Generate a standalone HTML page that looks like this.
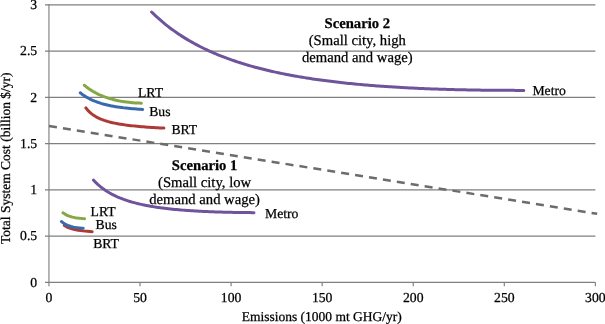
<!DOCTYPE html>
<html><head><meta charset="utf-8"><style>
html,body{margin:0;padding:0;background:#fff;}
body{width:605px;height:324px;overflow:hidden;font-family:"Liberation Serif",serif;}
svg{display:block;}
.t{filter:grayscale(1);text-rendering:geometricPrecision;}
</style></head><body>
<svg width="605" height="324" viewBox="0 0 605 324">
<g><line x1="45" y1="236.05" x2="595.4" y2="236.05" stroke="#7f7f7f" stroke-width="1.15"/><line x1="45" y1="189.80" x2="595.4" y2="189.80" stroke="#7f7f7f" stroke-width="1.15"/><line x1="45" y1="143.55" x2="595.4" y2="143.55" stroke="#7f7f7f" stroke-width="1.15"/><line x1="45" y1="97.30" x2="595.4" y2="97.30" stroke="#7f7f7f" stroke-width="1.15"/><line x1="45" y1="51.05" x2="595.4" y2="51.05" stroke="#7f7f7f" stroke-width="1.15"/><line x1="45" y1="4.80" x2="595.4" y2="4.80" stroke="#7f7f7f" stroke-width="1.15"/><line x1="45" y1="282.3" x2="595.4" y2="282.3" stroke="#7f7f7f" stroke-width="1.15"/><line x1="48.95" y1="4.20" x2="48.95" y2="286.2" stroke="#7f7f7f" stroke-width="1.15"/><line x1="140.02" y1="282.3" x2="140.02" y2="286.2" stroke="#7f7f7f" stroke-width="1.15"/><line x1="231.09" y1="282.3" x2="231.09" y2="286.2" stroke="#7f7f7f" stroke-width="1.15"/><line x1="322.16" y1="282.3" x2="322.16" y2="286.2" stroke="#7f7f7f" stroke-width="1.15"/><line x1="413.23" y1="282.3" x2="413.23" y2="286.2" stroke="#7f7f7f" stroke-width="1.15"/><line x1="504.30" y1="282.3" x2="504.30" y2="286.2" stroke="#7f7f7f" stroke-width="1.15"/><line x1="595.37" y1="282.3" x2="595.37" y2="286.2" stroke="#7f7f7f" stroke-width="1.15"/><line x1="49" y1="126.0" x2="597.2" y2="213.8" stroke="#6c6c6c" stroke-width="2.5" stroke-dasharray="8.0 6.09"/><polyline points="151.60,11.97 153.61,13.93 155.62,15.84 157.64,17.68 159.65,19.48 161.66,21.22 163.67,22.90 165.68,24.54 167.70,26.14 169.71,27.69 171.72,29.19 173.73,30.65 175.74,32.08 177.75,33.46 179.77,34.81 181.78,36.12 183.79,37.39 185.80,38.64 187.81,39.85 189.83,41.03 191.84,42.17 193.85,43.29 195.86,44.39 197.87,45.45 199.89,46.49 201.90,47.50 203.91,48.49 205.92,49.45 207.93,50.39 209.94,51.31 211.96,52.21 213.97,53.08 215.98,53.94 217.99,54.77 220.00,55.58 222.02,56.38 224.03,57.16 226.04,57.92 228.05,58.66 230.06,59.39 232.08,60.10 234.09,60.79 236.10,61.47 238.11,62.13 240.12,62.78 242.14,63.42 244.15,64.04 246.16,64.65 248.17,65.24 250.18,65.82 252.19,66.39 254.21,66.95 256.22,67.49 258.23,68.03 260.24,68.55 262.25,69.06 264.27,69.56 266.28,70.05 268.29,70.53 270.30,71.00 272.31,71.46 274.33,71.91 276.34,72.35 278.35,72.78 280.36,73.20 282.37,73.61 284.38,74.02 286.40,74.42 288.41,74.81 290.42,75.19 292.43,75.56 294.44,75.93 296.46,76.28 298.47,76.63 300.48,76.98 302.49,77.31 304.50,77.64 306.52,77.97 308.53,78.28 310.54,78.59 312.55,78.90 314.56,79.19 316.58,79.48 318.59,79.77 320.60,80.05 322.61,80.32 324.62,80.59 326.63,80.85 328.65,81.11 330.66,81.36 332.67,81.61 334.68,81.85 336.69,82.09 338.71,82.32 340.72,82.54 342.73,82.77 344.74,82.98 346.75,83.20 348.77,83.40 350.78,83.61 352.79,83.81 354.80,84.00 356.81,84.19 358.82,84.38 360.84,84.56 362.85,84.74 364.86,84.92 366.87,85.09 368.88,85.26 370.90,85.42 372.91,85.58 374.92,85.74 376.93,85.89 378.94,86.04 380.96,86.19 382.97,86.33 384.98,86.47 386.99,86.61 389.00,86.74 391.02,86.87 393.03,87.00 395.04,87.12 397.05,87.24 399.06,87.36 401.07,87.47 403.09,87.59 405.10,87.70 407.11,87.80 409.12,87.91 411.13,88.01 413.15,88.11 415.16,88.20 417.17,88.30 419.18,88.39 421.19,88.48 423.21,88.56 425.22,88.65 427.23,88.73 429.24,88.81 431.25,88.88 433.26,88.96 435.28,89.03 437.29,89.10 439.30,89.17 441.31,89.23 443.32,89.29 445.34,89.36 447.35,89.42 449.36,89.47 451.37,89.53 453.38,89.58 455.40,89.63 457.41,89.68 459.42,89.73 461.43,89.77 463.44,89.82 465.46,89.86 467.47,89.90 469.48,89.94 471.49,89.97 473.50,90.01 475.51,90.04 477.53,90.07 479.54,90.10 481.55,90.13 483.56,90.16 485.57,90.18 487.59,90.21 489.60,90.23 491.61,90.25 493.62,90.27 495.63,90.28 497.65,90.30 499.66,90.31 501.67,90.33 503.68,90.34 505.69,90.35 507.70,90.36 509.72,90.36 511.73,90.37 513.74,90.37 515.75,90.38 517.76,90.38 519.78,90.38 521.79,90.38 523.80,90.38" fill="none" stroke="#6f549c" stroke-width="3.0" stroke-linecap="round" stroke-linejoin="round"/><polyline points="93.40,180.04 95.43,182.18 97.47,184.13 99.50,185.92 101.53,187.57 103.56,189.08 105.60,190.48 107.63,191.78 109.66,192.99 111.70,194.11 113.73,195.16 115.76,196.14 117.79,197.05 119.83,197.91 121.86,198.71 123.89,199.47 125.93,200.18 127.96,200.85 129.99,201.48 132.03,202.07 134.06,202.64 136.09,203.17 138.12,203.67 140.16,204.15 142.19,204.60 144.22,205.03 146.26,205.43 148.29,205.82 150.32,206.19 152.35,206.53 154.39,206.87 156.42,207.18 158.45,207.48 160.49,207.76 162.52,208.04 164.55,208.29 166.58,208.54 168.62,208.77 170.65,209.00 172.68,209.21 174.72,209.41 176.75,209.60 178.78,209.79 180.82,209.96 182.85,210.13 184.88,210.29 186.91,210.44 188.95,210.58 190.98,210.72 193.01,210.85 195.05,210.98 197.08,211.09 199.11,211.20 201.14,211.31 203.18,211.41 205.21,211.51 207.24,211.60 209.28,211.68 211.31,211.77 213.34,211.84 215.37,211.91 217.41,211.98 219.44,212.05 221.47,212.11 223.51,212.16 225.54,212.22 227.57,212.27 229.61,212.31 231.64,212.36 233.67,212.39 235.70,212.43 237.74,212.47 239.77,212.50 241.80,212.52 243.84,212.55 245.87,212.57 247.90,212.59 249.93,212.61 251.97,212.63 254.00,212.64" fill="none" stroke="#6f549c" stroke-width="3.0" stroke-linecap="round" stroke-linejoin="round"/><polyline points="85.80,107.82 87.86,110.34 89.91,112.41 91.97,114.12 94.02,115.57 96.08,116.82 98.13,117.89 100.19,118.84 102.24,119.67 104.30,120.40 106.35,121.06 108.41,121.66 110.46,122.19 112.52,122.68 114.57,123.13 116.63,123.54 118.68,123.91 120.74,124.26 122.79,124.58 124.85,124.88 126.91,125.15 128.96,125.41 131.02,125.65 133.07,125.88 135.13,126.09 137.18,126.29 139.24,126.48 141.29,126.66 143.35,126.83 145.40,126.99 147.46,127.14 149.51,127.29 151.57,127.42 153.62,127.55 155.68,127.68 157.73,127.80 159.79,127.91 161.84,128.02 163.90,128.12" fill="none" stroke="#ae3a37" stroke-width="3.0" stroke-linecap="round" stroke-linejoin="round"/><polyline points="80.20,92.79 82.28,94.39 84.37,95.82 86.45,97.11 88.53,98.28 90.62,99.33 92.70,100.29 94.78,101.16 96.87,101.96 98.95,102.68 101.03,103.35 103.12,103.96 105.20,104.51 107.28,105.02 109.37,105.49 111.45,105.92 113.53,106.32 115.62,106.68 117.70,107.02 119.78,107.33 121.87,107.61 123.95,107.87 126.03,108.11 128.12,108.32 130.20,108.52 132.28,108.70 134.37,108.87 136.45,109.02 138.53,109.15 140.62,109.27 142.70,109.38" fill="none" stroke="#3a6aad" stroke-width="3.0" stroke-linecap="round" stroke-linejoin="round"/><polyline points="84.30,85.27 86.41,86.94 88.53,88.48 90.64,89.90 92.76,91.21 94.87,92.41 96.99,93.53 99.10,94.55 101.22,95.50 103.33,96.37 105.45,97.16 107.56,97.89 109.68,98.56 111.79,99.17 113.91,99.73 116.02,100.24 118.14,100.69 120.25,101.10 122.37,101.47 124.48,101.80 126.60,102.09 128.71,102.34 130.83,102.56 132.94,102.74 135.06,102.90 137.17,103.02 139.29,103.12 141.40,103.19" fill="none" stroke="#85a845" stroke-width="3.0" stroke-linecap="round" stroke-linejoin="round"/><polyline points="64.30,225.40 66.62,226.82 68.95,227.86 71.28,228.66 73.60,229.29 75.92,229.80 78.25,230.22 80.58,230.57 82.90,230.87 85.22,231.13 87.55,231.36 89.88,231.55 92.20,231.73" fill="none" stroke="#ae3a37" stroke-width="3.0" stroke-linecap="round" stroke-linejoin="round"/><polyline points="61.40,221.55 63.82,223.39 66.24,224.75 68.67,225.77 71.09,226.54 73.51,227.11 75.93,227.54 78.36,227.85 80.78,228.06 83.20,228.20" fill="none" stroke="#3a6aad" stroke-width="3.0" stroke-linecap="round" stroke-linejoin="round"/><polyline points="62.90,212.76 65.31,214.35 67.72,215.54 70.13,216.44 72.54,217.13 74.96,217.65 77.37,218.04 79.78,218.33 82.19,218.53 84.60,218.66" fill="none" stroke="#85a845" stroke-width="3.0" stroke-linecap="round" stroke-linejoin="round"/></g>
<g class="t" font-family="Liberation Serif, serif" fill="#000" stroke="#000" stroke-width="0.25"><text x="37.2" y="286.70" text-anchor="end" font-size="13.7" font-weight="normal" >0</text><text x="37.2" y="240.45" text-anchor="end" font-size="13.7" font-weight="normal" >0.5</text><text x="37.2" y="194.20" text-anchor="end" font-size="13.7" font-weight="normal" >1</text><text x="37.2" y="147.95" text-anchor="end" font-size="13.7" font-weight="normal" >1.5</text><text x="37.2" y="101.70" text-anchor="end" font-size="13.7" font-weight="normal" >2</text><text x="37.2" y="55.45" text-anchor="end" font-size="13.7" font-weight="normal" >2.5</text><text x="37.2" y="9.20" text-anchor="end" font-size="13.7" font-weight="normal" >3</text><text x="48.95" y="302.4" text-anchor="middle" font-size="13.7" font-weight="normal" >0</text><text x="140.02" y="302.4" text-anchor="middle" font-size="13.7" font-weight="normal" >50</text><text x="231.09" y="302.4" text-anchor="middle" font-size="13.7" font-weight="normal" >100</text><text x="322.16" y="302.4" text-anchor="middle" font-size="13.7" font-weight="normal" >150</text><text x="413.23" y="302.4" text-anchor="middle" font-size="13.7" font-weight="normal" >200</text><text x="504.30" y="302.4" text-anchor="middle" font-size="13.7" font-weight="normal" >250</text><text x="595.37" y="302.4" text-anchor="middle" font-size="13.7" font-weight="normal" >300</text><text x="321.8" y="321.3" text-anchor="middle" font-size="13.5" font-weight="normal" >Emissions (1000 mt GHG/yr)</text><text transform="translate(9.5,158.2) rotate(-90)" text-anchor="middle" font-size="13.5">Total System Cost (billion $/yr)</text><text x="138.0" y="97" text-anchor="start" font-size="13.7" font-weight="normal" >LRT</text><text x="149.2" y="115.6" text-anchor="start" font-size="13.7" font-weight="normal" >Bus</text><text x="171.4" y="133.7" text-anchor="start" font-size="13.7" font-weight="normal" >BRT</text><text x="532.4" y="95.4" text-anchor="start" font-size="13.7" font-weight="normal" >Metro</text><text x="90.6" y="215.6" text-anchor="start" font-size="13.7" font-weight="normal" >LRT</text><text x="95.5" y="229.1" text-anchor="start" font-size="13.7" font-weight="normal" >Bus</text><text x="93.2" y="247.8" text-anchor="start" font-size="13.7" font-weight="normal" >BRT</text><text x="265.0" y="217.7" text-anchor="start" font-size="13.7" font-weight="normal" >Metro</text><text x="357.3" y="28.1" text-anchor="middle" font-size="14.67" font-weight="bold" >Scenario 2</text><text x="357.3" y="44.8" text-anchor="middle" font-size="14.67" font-weight="normal" >(Small city, high</text><text x="357.3" y="61.7" text-anchor="middle" font-size="14.67" font-weight="normal" >demand and wage)</text><text x="204.6" y="169.8" text-anchor="middle" font-size="14.67" font-weight="bold" >Scenario 1</text><text x="204.6" y="186.7" text-anchor="middle" font-size="14.67" font-weight="normal" >(Small city, low</text><text x="204.6" y="203.5" text-anchor="middle" font-size="14.67" font-weight="normal" >demand and wage)</text></g>
</svg>
</body></html>
